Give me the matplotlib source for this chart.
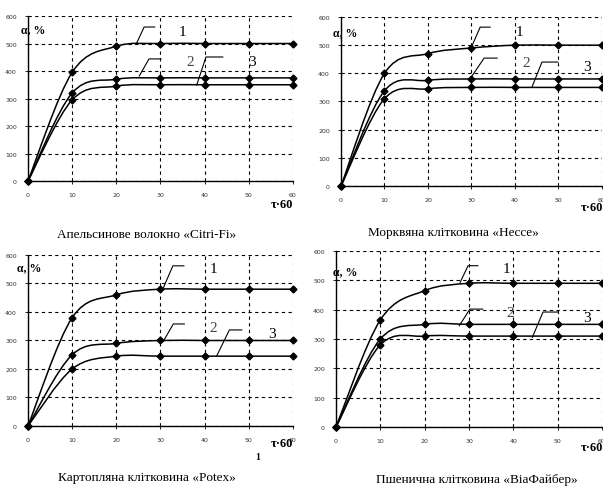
import matplotlib
matplotlib.use('Agg')
import matplotlib.pyplot as plt
from matplotlib.path import Path
from matplotlib.patches import PathPatch
import numpy as np

# time points, min
tau = [0, 10, 20, 30, 40, 50, 60]

# swelling curves (1, 2, 3) for each fibre
citri_fi = [[0, 395, 490, 500, 500, 500, 500],
            [0, 320, 370, 375, 375, 375, 375],
            [0, 295, 345, 350, 350, 350, 350]]
hesse = [[0, 400, 470, 490, 500, 500, 500],
         [0, 338, 375, 380, 380, 380, 380],
         [0, 310, 345, 350, 350, 350, 350]]
potex = [[0, 380, 460, 480, 480, 480, 480],
         [0, 250, 290, 300, 300, 300, 300],
         [0, 200, 245, 245, 245, 245, 245]]
viafiber = [[0, 365, 465, 490, 490, 490, 490],
            [0, 300, 350, 350, 350, 350, 350],
            [0, 280, 310, 310, 310, 310, 310]]

captions = ['Апельсинове волокно «Citri-Fi»',
            'Морквяна клітковина «Hecce»',
            'Картопляна клітковина «Potex»',
            'Пшенична клітковина «ВіаФайбер»']

# curve labels: (text x, text y, leader start(x,y), leader knee(x,y), leader end x)
leaders = [
    [(35, 545, (24.5, 498), (26.3, 560), 28.7),
     (36.7, 433, (25.2, 382), (27.4, 444), 30.1),
     (50.7, 433, (38.2, 349), (40.3, 451), 44.1)],
    [(41.1, 550, (30.1, 497), (32.0, 564), 34.3),
     (42.5, 440, (30.1, 390), (32.9, 454), 35.9),
     (56.6, 426, (43.9, 351), (46.2, 440), 49.9)],
    [(41.9, 551, (30.6, 483), (32.8, 562), 35.3),
     (41.9, 344, (30.6, 296), (32.9, 358), 35.4),
     (55.2, 323, (42.7, 245), (45.6, 337), 48.4)],
    [(38.5, 539, (28.0, 493), (29.8, 550), 32.0),
     (39.4, 389, (27.8, 345), (30.2, 402), 33.1),
     (56.6, 375, (44.3, 306), (46.7, 392), 50.1)],
]

positions = [[0.0464, 0.6278, 0.4395, 0.3374],
             [0.5655, 0.6176, 0.4328, 0.3456],
             [0.0464, 0.1268, 0.4395, 0.3497],
             [0.5572, 0.1247, 0.4411, 0.3599]]
caption_xy = [(147, 235), (453, 233), (147, 478), (477, 480)]
alpha_xy = [(33, 30), (345, 33), (29, 268), (345, 272)]
taulab_xy = [(293, 205), (603, 208), (293, 444), (603, 448)]

W, H = 603, 489


def smooth_path(x, y, t=1/6):
    # Excel-like smoothed line as cubic Bezier segments
    p = np.column_stack([x, y]).astype(float)
    n = len(p)
    verts = [p[0]]
    codes = [Path.MOVETO]
    for i in range(n - 1):
        p0 = p[i - 1] if i > 0 else p[i]
        p3 = p[i + 2] if i + 2 < n else p[i + 1]
        c1 = p[i] + (p[i + 1] - p0) * t
        c2 = p[i + 1] - (p3 - p[i]) * t
        verts += [c1, c2, p[i + 1]]
        codes += [Path.CURVE4] * 3
    return Path(verts, codes)


fig = plt.figure(figsize=(W / 100, H / 100), dpi=100)
serif = 'Liberation Serif'

for k, data in enumerate([citri_fi, hesse, potex, viafiber]):
    ax = fig.add_axes(positions[k])
    ax.set_xlim(0, 60)
    ax.set_ylim(0, 600)
    ax.set_xticks(range(0, 61, 10))
    ax.set_yticks(range(0, 601, 100))
    ax.tick_params(labelsize=4.5, length=2, width=0.6, colors='black', pad=6)
    for lab in ax.get_xticklabels() + ax.get_yticklabels():
        lab.set_color('#333333')
    ax.grid(True, color='black', linestyle=(0, (3, 3)), linewidth=0.8)
    ax.spines['top'].set_visible(False)
    ax.spines['right'].set_visible(False)
    ax.spines['left'].set_linewidth(1.0)
    ax.spines['bottom'].set_linewidth(1.0)
    for series in data:
        ax.add_patch(PathPatch(smooth_path(tau, series), fill=False,
                               edgecolor='black', linewidth=1.1, zorder=3))
        ax.plot(tau, series, linestyle='none', marker='D', markersize=3.5,
                color='black', zorder=4, clip_on=False)
    for j, (tx, ty, start, knee, xend) in enumerate(leaders[k]):
        ax.plot([start[0], knee[0], xend], [start[1], knee[1], knee[1]],
                color='black', linewidth=0.8, zorder=5)
        ax.text(tx, ty, str(j + 1), fontsize=11, family=serif,
                ha='center', va='center', zorder=6,
                color='black' if j != 1 else '#444444')
    ax.set_axisbelow(True)

    cx, cy = caption_xy[k]
    fig.text(cx / W, 1 - cy / H, captions[k], fontsize=9.5, family=serif,
             ha='center', va='center')
    axx, axy = alpha_xy[k]
    fig.text(axx / W, 1 - axy / H, 'α, %', fontsize=8.5, family=serif,
             weight='bold', ha='center', va='center', zorder=10)
    lx, ly = taulab_xy[k]
    fig.text(lx / W, 1 - ly / H, 'τ·60', fontsize=9, family=serif,
             weight='bold', ha='right', va='center')

fig.text(258 / W, 1 - 458 / H, '1', fontsize=7, family=serif,
         weight='bold', ha='center', va='center')

fig.savefig('out.png', dpi=100)
